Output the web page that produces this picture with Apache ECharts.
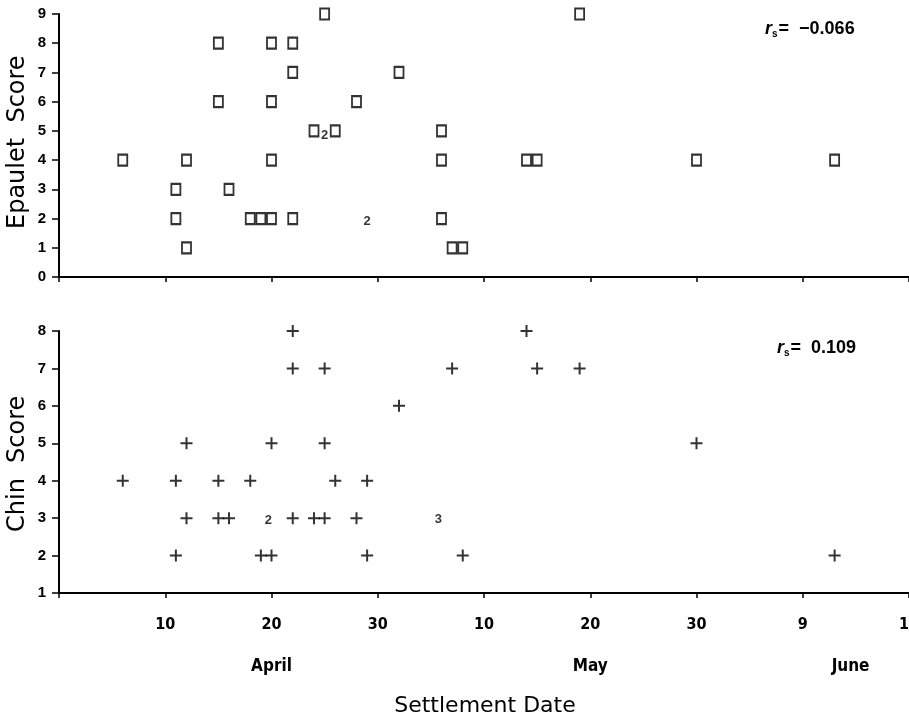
<!DOCTYPE html>
<html>
<head>
<meta charset="utf-8">
<script src="https://cdn.jsdelivr.net/npm/echarts@6/dist/echarts.min.js"></script>
<style>
  html, body { margin: 0; padding: 0; background: #fff; }
  #chart { width: 909px; height: 721px; }
</style>
</head>
<body>
<div id="chart"></div>
<script>
// settlement day counted from March 31 (April 1 = 1)
const epauletDays   = [6, 11, 11, 12, 12, 15, 15, 16, 18, 19, 20, 20, 20, 20, 22, 22, 22, 25, 24, 26, 28, 32, 36, 36, 36, 37, 38, 44, 45, 49, 60, 73]
const epauletScores = [4, 3, 2, 4, 1, 8, 6, 3, 2, 2, 2, 8, 6, 4, 8, 7, 2, 9, 5, 5, 6, 7, 5, 4, 2, 1, 1, 4, 4, 9, 4, 4]
// overlapping points drawn as a count
const epauletCounts = [[25, 4.85, '2'], [29, 1.9, '2']]

const chinDays   = [6, 11, 12, 12, 15, 15, 16, 18, 20, 22, 22, 22, 25, 25, 24, 25, 26, 28, 29, 32, 37, 11, 19, 20, 29, 38, 73, 44, 45, 49, 60]
const chinScores = [4, 4, 5, 3, 4, 3, 3, 4, 5, 8, 7, 3, 7, 5, 3, 3, 4, 3, 4, 6, 7, 2, 2, 2, 2, 2, 2, 8, 7, 7, 5]
const chinCounts = [[19.7, 2.95, '2'], [35.7, 2.97, '3']]

const dayTickLabels = ['', '10', '20', '30', '10', '20', '30', '9', '15']
const monthLabels = ['April', 'May', 'June']
const monthDays = [20, 50, 74.5]

const epauletR = '-0.066'
const chinR = '0.109'

const chart = echarts.init(document.getElementById('chart'))

const zip = (xs, ys) => xs.map((x, i) => [x, ys[i]])

const axisLine = { show: true, lineStyle: { color: '#000', width: 2 } }
const yLabel = { color: '#000', fontFamily: 'Liberation Sans', fontWeight: 'bold', fontSize: 15, margin: 13 }
const crossPath = 'path://M0,5H12V7H0Z M5,0H7V12H5Z'

function countSeries(data, axisIndex) {
  return {
    type: 'scatter',
    xAxisIndex: axisIndex,
    yAxisIndex: axisIndex,
    data: data,
    symbol: 'rect',
    symbolSize: 1,
    itemStyle: { color: 'rgba(0,0,0,0)' },
    label: {
      show: true,
      position: 'inside',
      formatter: p => p.value[2],
      color: '#000',
      fontFamily: 'Liberation Sans',
      fontWeight: 'bold',
      fontSize: 13
    },
    silent: true
  }
}

function rText(left, top, value) {
  return {
    type: 'text',
    left: left,
    top: top,
    style: {
      text: '{r|r}{s|s}{v|=  ' + value.replace('-', '\u2212') + '}',
      rich: {
        r: { fontFamily: 'Liberation Sans', fontStyle: 'italic', fontWeight: 'bold', fontSize: 18, fill: '#000' },
        s: { fontFamily: 'Liberation Sans', fontWeight: 'bold', fontSize: 10, fill: '#000', padding: [11, 1, 0, 0] },
        v: { fontFamily: 'Liberation Sans', fontWeight: 'bold', fontSize: 18, fill: '#000' }
      }
    }
  }
}

chart.setOption({
  animation: false,
  backgroundColor: '#fff',
  grid: [
    { left: 59, right: 0, top: 14, height: 263, outerBoundsMode: 'none' },
    { left: 59, right: 0, top: 331, height: 262, outerBoundsMode: 'none' }
  ],
  xAxis: [0, 1].map(i => ({
    type: 'value',
    gridIndex: i,
    min: 0,
    max: 80,
    interval: 10,
    axisLine: axisLine,
    axisTick: { show: true, length: 5, lineStyle: { color: '#000', width: 1.5 } },
    splitLine: { show: false },
    axisLabel: {
      show: i === 1,
      formatter: v => dayTickLabels[Math.round(v / 10)],
      color: '#000',
      fontFamily: 'DejaVu Sans Condensed',
      fontWeight: 'bold',
      fontSize: 16,
      margin: 24
    }
  })),
  yAxis: [
    { type: 'value', gridIndex: 0, min: 0, max: 9, interval: 1 },
    { type: 'value', gridIndex: 1, min: 1, max: 8, interval: 1 }
  ].map(a => Object.assign(a, {
    axisLine: axisLine,
    axisTick: { show: true, length: 7, lineStyle: { color: '#000', width: 1.5 } },
    splitLine: { show: false },
    axisLabel: yLabel
  })),
  series: [
    {
      type: 'scatter',
      xAxisIndex: 0,
      yAxisIndex: 0,
      data: zip(epauletDays, epauletScores),
      symbol: 'rect',
      symbolSize: [9, 11],
      itemStyle: { color: '#fff', borderColor: '#000', borderWidth: 2 }
    },
    countSeries(epauletCounts, 0),
    {
      type: 'scatter',
      xAxisIndex: 1,
      yAxisIndex: 1,
      data: zip(chinDays, chinScores),
      symbol: crossPath,
      symbolSize: 12,
      itemStyle: { color: '#000' }
    },
    countSeries(chinCounts, 1)
  ]
})

// text: axis names, r_s values, and month names under the day ticks
const monthGraphics = monthLabels.map((m, i) => ({
  type: 'text',
  x: chart.convertToPixel({ xAxisIndex: 1 }, monthDays[i]),
  y: 667,
  style: {
    text: m, fontFamily: 'DejaVu Sans Condensed', fontWeight: 'bold', fontSize: 17,
    fill: '#000', align: 'center', verticalAlign: 'middle'
  }
}))

chart.setOption({
  graphic: [
    {
      type: 'text', x: 6, y: 229, rotation: Math.PI / 2,
      style: { text: 'Epaulet  Score', fontFamily: 'DejaVu Sans', fontSize: 24, fill: '#000', verticalAlign: 'top' }
    },
    {
      type: 'text', x: 6, y: 532, rotation: Math.PI / 2,
      style: { text: 'Chin  Score', fontFamily: 'DejaVu Sans', fontSize: 24, fill: '#000', verticalAlign: 'top' }
    },
    {
      type: 'text', x: 485, y: 706,
      style: { text: 'Settlement Date', fontFamily: 'DejaVu Sans', fontSize: 22, fill: '#000', align: 'center', verticalAlign: 'middle' }
    },
    rText(765, 20, epauletR),
    rText(777, 339, chinR)
  ].concat(monthGraphics)
})
</script>
</body>
</html>
